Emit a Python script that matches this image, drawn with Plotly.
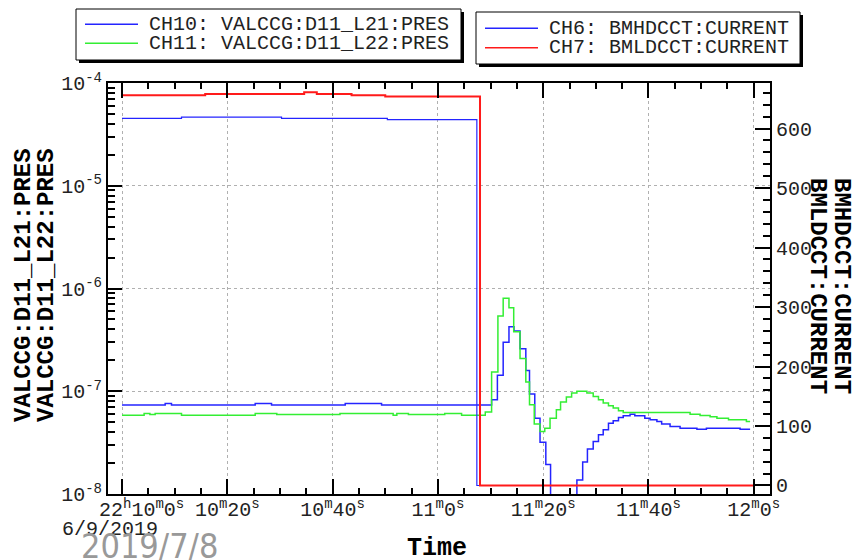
import plotly.graph_objects as go

# Time is in seconds after 22:10:00 on 6/9/2019; every channel is a step trace.
ch10_t = [0, 8.2, 9.4, 25.3, 28.4, 42.4, 49.3,
          70.2, 71.3, 72.4, 73.5, 74.45, 75.6, 76.7, 77.4, 78.4, 79.4, 80.5, 81.4,
          86.4, 87.5, 88.4, 89.5, 90.5, 91.4, 92.4, 93.3, 94.3, 95.2, 96.5, 97.4,
          99.3, 100.3, 101.6, 102.5, 104.1, 106.0, 109.2, 111.0, 117.4, 119.3]
ch10_pres = [7.33e-8, 7.62e-8, 7.33e-8, 7.62e-8, 7.33e-8, 7.62e-8, 7.33e-8,
             8.28e-8, 1.43e-7, 3.0e-7, 4.25e-7, 3.85e-7, 2.59e-7, 1.59e-7, 9.4e-8, 5.47e-8, 3.19e-8, 1.94e-8, 5e-9,
             1.37e-8, 2.05e-8, 2.74e-8, 3.24e-8, 3.77e-8, 4.21e-8, 4.89e-8, 5.15e-8, 5.55e-8, 5.77e-8, 5.98e-8, 5.77e-8,
             5.47e-8, 5.27e-8, 5.08e-8, 4.79e-8, 4.54e-8, 4.37e-8, 4.27e-8, 4.37e-8, 4.27e-8, 4.27e-8]

ch11_t = [0, 4.2, 5.3, 6.3, 11.3, 25.3, 29.4, 41.4, 51.5, 52.2, 54.4, 61.3, 64.5,
          69.0, 70.2, 71.4, 72.4, 73.5, 74.4, 75.6, 76.7, 77.4, 78.3,
          79.4, 80.3, 81.3, 82.5, 83.3, 84.4, 85.4, 86.4,
          88.3, 89.5, 90.5, 91.4, 92.4, 93.3, 94.3, 95.2,
          107.9, 109.8, 111.7, 113.0, 115.2, 118.6, 119.3]
ch11_pres = [5.85e-8, 6.08e-8, 5.94e-8, 6.08e-8, 5.85e-8, 6.08e-8, 5.94e-8, 6.08e-8, 5.85e-8, 6.08e-8, 5.94e-8, 6.08e-8, 5.85e-8,
             6.27e-8, 1.54e-7, 5.4e-7, 8.04e-7, 6.5e-7, 3.8e-7, 2.08e-7, 1.23e-7, 7.4e-8, 4.79e-8,
             4.06e-8, 4.37e-8, 5.47e-8, 6.6e-8, 7.85e-8, 8.78e-8, 9.6e-8, 1.0e-7,
             9.6e-8, 8.9e-8, 8.28e-8, 7.67e-8, 7.23e-8, 6.86e-8, 6.46e-8, 6.22e-8,
             5.98e-8, 5.8e-8, 5.65e-8, 5.47e-8, 5.27e-8, 5.08e-8, 5.08e-8]

ch6_t = [0, 11.3, 30.3, 50.4, 67.4, 119.9]
ch6_current = [617, 619, 617, 615, 0, 0]

ch7_t = [0, 15.8, 34.6, 37.0, 43.6, 50.0, 68.0, 119.9]
ch7_current = [656, 658, 661, 658, 656, 654, 0, 0]

time_ticks = [0, 20, 40, 60, 80, 100, 120]
time_labels = ["22<sup>h</sup>10<sup>m</sup>0<sup>s</sup>",
               "10<sup>m</sup>20<sup>s</sup>", "10<sup>m</sup>40<sup>s</sup>",
               "11<sup>m</sup>0<sup>s</sup>", "11<sup>m</sup>20<sup>s</sup>",
               "11<sup>m</sup>40<sup>s</sup>", "12<sup>m</sup>0<sup>s</sup>"]
pres_ticks = [1e-8, 1e-7, 1e-6, 1e-5, 1e-4]
pres_labels = ["10<sup>-8</sup>", "10<sup>-7</sup>", "10<sup>-6</sup>", "10<sup>-5</sup>", "10<sup>-4</sup>"]
current_ticks = [0, 100, 200, 300, 400, 500, 600]

names = {
    "ch10": "CH10: VALCCG:D11_L21:PRES",
    "ch11": "CH11: VALCCG:D11_L22:PRES",
    "ch6": "CH6: BMHDCCT:CURRENT",
    "ch7": "CH7: BMLDCCT:CURRENT",
}
colors = {"ch10": "#2424ff", "ch11": "#33ee33", "ch6": "#2424ff", "ch7": "#ff1a1a"}

MONO = "Liberation Mono"
W, H = 853, 560
L, R, T, B = 108, 83, 83, 66
PW, PH = W - L - R, H - T - B


def px(x):
    return (x - L) / PW


def py(y):
    return (H - B - y) / PH


fig = go.Figure()
fig.add_trace(go.Scatter(x=ch10_t, y=ch10_pres, mode="lines", name=names["ch10"],
                         line=dict(color=colors["ch10"], width=1.5, shape="hv"), yaxis="y"))
fig.add_trace(go.Scatter(x=ch11_t, y=ch11_pres, mode="lines", name=names["ch11"],
                         line=dict(color=colors["ch11"], width=1.5, shape="hv"), yaxis="y"))
fig.add_trace(go.Scatter(x=ch6_t, y=ch6_current, mode="lines", name=names["ch6"],
                         line=dict(color=colors["ch6"], width=1.2, shape="hv"), yaxis="y2"))
fig.add_trace(go.Scatter(x=ch7_t, y=ch7_current, mode="lines", name=names["ch7"],
                         line=dict(color=colors["ch7"], width=2, shape="hv"), yaxis="y2"))

axis_common = dict(showline=True, linewidth=2, linecolor="black", ticks="inside",
                   tickcolor="black", tickwidth=2, zeroline=False,
                   tickfont=dict(family=MONO, size=20, color="#222"))

fig.update_layout(
    width=W, height=H, margin=dict(l=L, r=R, t=T, b=B),
    paper_bgcolor="white", plot_bgcolor="white", showlegend=False,
    font=dict(family=MONO, size=20, color="#222"),
    xaxis=dict(range=[-2.66, 123.08], tickmode="array", tickvals=time_ticks,
               ticktext=[""] + time_labels[1:], ticklen=15, mirror="ticks",
               ticklabelstandoff=-4,
               showgrid=True, gridcolor="#b0b0b0", griddash="dot", gridwidth=1,
               minor=dict(tickmode="linear", tick0=0, dtick=5, ticks="inside", ticklen=6,
                          tickwidth=2, tickcolor="black", showgrid=False),
               **axis_common),
    yaxis=dict(type="log", range=[-8, -4], tickmode="array", tickvals=pres_ticks,
               ticktext=pres_labels, ticklen=14, mirror=False,
               showgrid=True, gridcolor="#b0b0b0", griddash="dot", gridwidth=1,
               minor=dict(tickmode="linear", dtick="D1", ticks="inside", ticklen=7,
                          tickwidth=1.5, tickcolor="black", showgrid=False),
               **axis_common),
    yaxis2=dict(overlaying="y", side="right", range=[-14.3, 676.5], tickmode="array",
                tickvals=current_ticks, ticklen=15, showgrid=False,
                minor=dict(tickmode="linear", tick0=0, dtick=20, ticks="inside", ticklen=7,
                           tickwidth=1.5, tickcolor="black", showgrid=False),
                **axis_common),
)

shapes = []
annotations = []

# legend boxes with drop shadows
legend_boxes = [
    dict(x0=76, x1=461, y0=9, y1=60, keys=["ch10", "ch11"], rows=[24.3, 43.3], lx=85),
    dict(x0=476, x1=800, y0=12, y1=64, keys=["ch6", "ch7"], rows=[28.3, 47.7], lx=485),
]
for box in legend_boxes:
    shapes.append(dict(type="rect", xref="paper", yref="paper",
                       x0=px(box["x0"] + 3), x1=px(box["x1"] + 3), y0=py(box["y0"] + 3), y1=py(box["y1"] + 3),
                       fillcolor="black", line=dict(width=0), layer="above"))
    shapes.append(dict(type="rect", xref="paper", yref="paper",
                       x0=px(box["x0"]), x1=px(box["x1"]), y0=py(box["y0"]), y1=py(box["y1"]),
                       fillcolor="white", line=dict(color="black", width=1), layer="above"))
    for key, ry in zip(box["keys"], box["rows"]):
        shapes.append(dict(type="line", xref="paper", yref="paper",
                           x0=px(box["lx"]), x1=px(box["lx"] + 53), y0=py(ry), y1=py(ry),
                           line=dict(color=colors[key], width=1.5), layer="above"))
        annotations.append(dict(text=names[key], xref="paper", yref="paper",
                                x=px(box["lx"] + 62), y=py(ry), xanchor="left", yanchor="middle",
                                showarrow=False, font=dict(family=MONO, size=20, color="#222")))

# first time label sits off-centre, with the date beneath it
annotations.append(dict(text=time_labels[0], xref="paper", yref="paper", x=px(97), y=py(509),
                        xanchor="left", yanchor="middle", showarrow=False,
                        font=dict(family=MONO, size=20, color="#222")))
annotations.append(dict(text="6/9/2019", xref="paper", yref="paper", x=px(60), y=py(529),
                        xanchor="left", yanchor="middle", showarrow=False,
                        font=dict(family=MONO, size=20, color="#222")))
annotations.append(dict(text="2019/7/8", xref="paper", yref="paper", x=px(79), y=py(546),
                        xanchor="left", yanchor="middle", showarrow=False,
                        font=dict(family="DejaVu Sans Condensed, DejaVu Sans", size=34,
                                  color="#999999", weight=300)))

# axis titles
annotations.append(dict(text="<b>Time</b>", xref="paper", yref="paper", x=px(437), y=py(548),
                        xanchor="center", yanchor="middle", showarrow=False,
                        font=dict(family=MONO, size=25, color="black")))
for txt, xpos in [("VALCCG:D11_L21:PRES", 23), ("VALCCG:D11_L22:PRES", 46)]:
    annotations.append(dict(text="<b>" + txt + "</b>", xref="paper", yref="paper", x=px(xpos), y=py(285),
                            xanchor="center", yanchor="middle", textangle=-90, showarrow=False,
                            font=dict(family=MONO, size=24, color="black")))
for txt, xpos in [("BMHDCCT:CURRENT", 842), ("BMLDCCT:CURRENT", 818)]:
    annotations.append(dict(text="<b>" + txt + "</b>", xref="paper", yref="paper", x=px(xpos), y=py(286),
                            xanchor="center", yanchor="middle", textangle=90, showarrow=False,
                            font=dict(family=MONO, size=24, color="black")))

fig.update_layout(shapes=shapes, annotations=annotations)
fig.write_html("out.html")
